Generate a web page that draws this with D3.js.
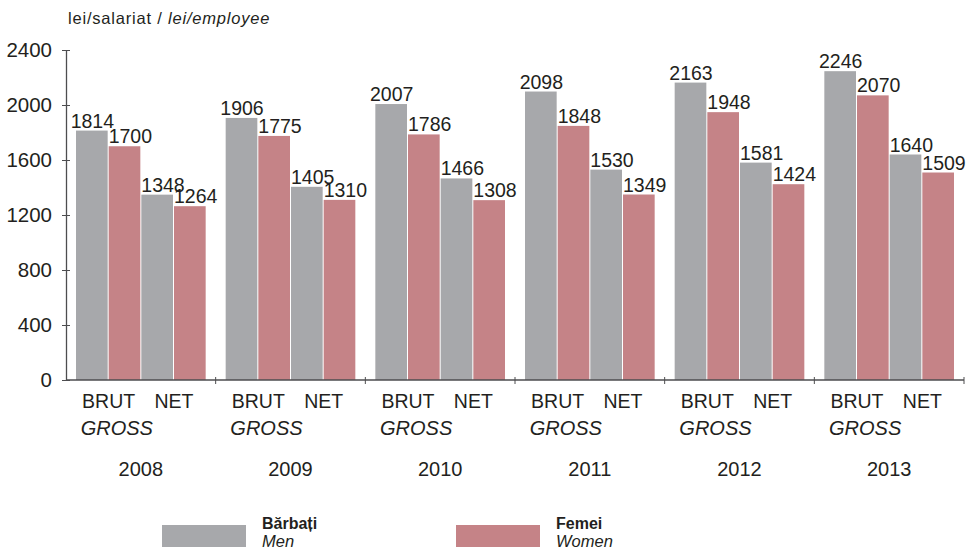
<!DOCTYPE html>
<html lang="ro">
<head>
<meta charset="utf-8">
<title>Castig salarial mediu</title>
<script src="https://d3js.org/d3.v7.min.js"></script>
<style>
  body { margin: 0; background: #fff; }
  svg { display: block; font-family: "Liberation Sans", Arial, Helvetica, sans-serif; }
  text { fill: #231f20; }
</style>
</head>
<body>
<div id="chart"></div>
<script>
// data (lei/employee)
var years = ["2008", "2009", "2010", "2011", "2012", "2013"];
var menGross = [1814, 1906, 2007, 2098, 2163, 2246];
var womenGross = [1700, 1775, 1786, 1848, 1948, 2070];
var menNet = [1348, 1405, 1466, 1530, 1581, 1640];
var womenNet = [1264, 1310, 1308, 1349, 1424, 1509];
var yTicks = [0, 400, 800, 1200, 1600, 2000, 2400];

var series = [menGross, womenGross, menNet, womenNet];
var seriesColor = ["#a7a8ab", "#c58387", "#a7a8ab", "#c58387"];

var width = 972, height = 552;
var svg = d3.select("#chart").append("svg")
  .attr("width", width)
  .attr("height", height);

var x = d3.scaleBand().domain(years).range([66, 964]);
var xi = d3.scaleBand().domain(d3.range(4)).range([10, x.bandwidth() - 9]);
var y = d3.scaleLinear().domain([0, 2400]).range([380, 50]);

// title
var title = svg.append("text")
  .attr("x", 68).attr("y", 24)
  .style("font-size", "16.5px")
  .style("letter-spacing", "0.8px");
title.append("tspan").text("lei/salariat / ");
title.append("tspan").style("font-style", "italic").text("lei/employee");

// bars
var groups = svg.selectAll("g.year")
  .data(years)
  .join("g")
  .attr("class", "year")
  .attr("transform", function (d) { return "translate(" + x(d) + ",0)"; });

groups.each(function (yr, gi) {
  var g = d3.select(this);
  var vals = series.map(function (s) { return s[gi]; });
  g.selectAll("rect")
    .data(vals)
    .join("rect")
    .attr("x", function (d, i) { return xi(i); })
    .attr("y", function (d) { return y(d); })
    .attr("width", xi.bandwidth() - 1)
    .attr("height", function (d) { return y(0) - y(d); })
    .attr("fill", function (d, i) { return seriesColor[i]; });

  g.selectAll("text.val")
    .data(vals)
    .join("text")
    .attr("class", "val")
    .attr("x", function (d, i) { return i === 0 ? xi(i) + xi.bandwidth() / 2 : xi(i); })
    .attr("y", function (d) { return y(d) - 3; })
    .attr("text-anchor", function (d, i) { return i === 0 ? "middle" : "start"; })
    .style("font-size", "19.5px")
    .text(function (d) { return d; });

  var brutX = xi(1);
  var netX = xi(3);
  g.append("text").attr("x", brutX).attr("y", 408)
    .attr("text-anchor", "middle").style("font-size", "19.5px").text("BRUT");
  g.append("text").attr("x", netX).attr("y", 408)
    .attr("text-anchor", "middle").style("font-size", "19.5px").text("NET");
  g.append("text").attr("x", brutX - 28).attr("y", 435)
    .style("font-size", "20px").style("font-style", "italic").text("GROSS");
  g.append("text").attr("x", x.bandwidth() / 2).attr("y", 476)
    .attr("text-anchor", "middle").style("font-size", "20px").text(yr);
});

// y axis
var yAxis = svg.append("g")
  .attr("transform", "translate(66,0)")
  .call(d3.axisLeft(y).tickValues(yTicks).tickFormat(d3.format("d"))
    .tickSizeOuter(0).tickSizeInner(4).tickPadding(10));
yAxis.select(".domain").attr("stroke", "#4d4d4f").attr("stroke-width", 1.3);
yAxis.selectAll(".tick line").attr("x1", -4).attr("x2", 4).attr("stroke", "#4d4d4f");
yAxis.selectAll(".tick text")
  .style("font-size", "20.5px")
  .style("font-family", "'Liberation Sans', Arial, sans-serif")
  .attr("fill", "#231f20");

// x axis with ticks at group boundaries
var bounds = years.map(function (d) { return x(d); }).concat([x.range()[1]]);
svg.append("line")
  .attr("x1", 66).attr("x2", 964)
  .attr("y1", y(0)).attr("y2", y(0))
  .attr("stroke", "#4d4d4f").attr("stroke-width", 1.3);
svg.selectAll("line.xtick")
  .data(bounds.slice(1))
  .join("line")
  .attr("class", "xtick")
  .attr("x1", function (d) { return d; }).attr("x2", function (d) { return d; })
  .attr("y1", y(0) - 3).attr("y2", y(0) + 4)
  .attr("stroke", "#4d4d4f");

// legend
var legendItems = [
  { name: "Bărbați", en: "Men", color: "#a7a8ab", x: 162 },
  { name: "Femei", en: "Women", color: "#c58387", x: 456 }
];
var lg = svg.selectAll("g.legend")
  .data(legendItems)
  .join("g")
  .attr("class", "legend")
  .attr("transform", function (d) { return "translate(" + d.x + ",0)"; });
lg.append("rect")
  .attr("x", 0).attr("y", 525)
  .attr("width", 84).attr("height", 22)
  .attr("fill", function (d) { return d.color; });
lg.append("text")
  .attr("x", 100).attr("y", 529)
  .style("font-size", "16px").style("font-weight", "bold")
  .text(function (d) { return d.name; });
lg.append("text")
  .attr("x", 100).attr("y", 547)
  .style("font-size", "16.5px").style("font-style", "italic")
  .text(function (d) { return d.en; });
</script>
</body>
</html>
